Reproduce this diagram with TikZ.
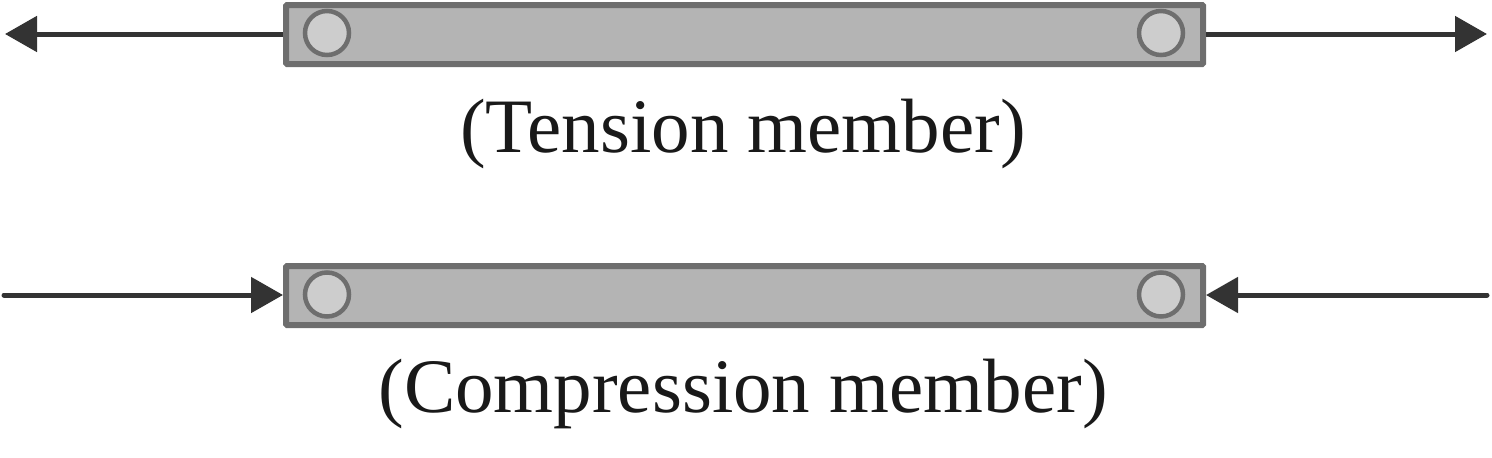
\documentclass[tikz,border=0pt]{standalone}
\usepackage{fontspec}
\setmainfont{Liberation Serif}
\usetikzlibrary{arrows.meta}
\definecolor{barfill}{HTML}{B4B4B4}
\definecolor{barline}{HTML}{6E6E6E}
\definecolor{pinfill}{HTML}{CDCDCD}
\definecolor{arrowcol}{HTML}{333333}
\begin{document}
\begin{tikzpicture}[x=1pt,y=-1pt,
  bar/.style={draw=barline,fill=barfill,line width=6pt,rectangle,inner sep=0pt,
    minimum width=917pt,minimum height=59pt,rounded corners=1pt},
  pin/.style={draw=barline,fill=pinfill,line width=4.5pt,circle,inner sep=0pt,minimum size=44pt},
  force/.style={draw=arrowcol,line width=5pt,line cap=round,-{Triangle[length=32pt,width=35pt]}},
  label/.style={font=\fontsize{77}{90}\selectfont,text=black!90,inner sep=0pt,anchor=base}]
\useasboundingbox (0,0) rectangle (1492,458);
% tension member
\node[bar] (t) at (744.5,34.5) {};
\node[pin] (t1) at (327,33) {};
\node[pin] (t2) at (1161,33) {};
\coordinate (tl) at (5,34);
\coordinate (tr) at (1487,34);
\draw[force,line cap=butt] (t.west |- tl) -- (tl);
\draw[force,line cap=butt] (t.east |- tr) -- (tr);
\node[label] (tt) at (743,152) {(Tension member)};
% compression member
\node[bar] (c) at (744.5,295.5) {};
\node[pin] (c1) at (327,294.5) {};
\node[pin] (c2) at (1161,294.5) {};
\coordinate (cl) at (4,295);
\coordinate (cr) at (1487,295);
\draw[force] (cl) -- (c.west |- cl);
\draw[force] (cr) -- (c.east |- cr);
\node[label] (ct) at (743,412) {(Compression member)};
\end{tikzpicture}
\end{document}
